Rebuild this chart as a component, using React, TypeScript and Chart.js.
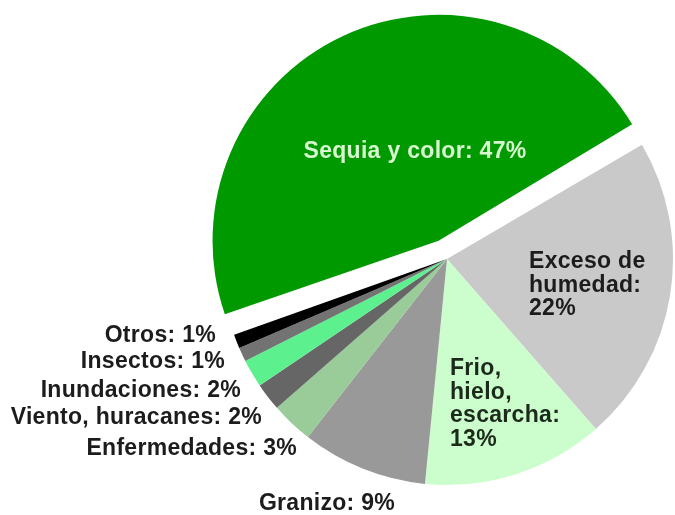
import React, { useEffect, useRef } from "react";
import { Chart, registerables } from "chart.js";

Chart.register(...registerables);

// ---- data ----
const categories = [
  "Exceso de\nhumedad",
  "Frio,\nhielo,\nescarcha",
  "Granizo",
  "Enfermedades",
  "Viento, huracanes",
  "Inundaciones",
  "Insectos",
  "Otros",
  "Sequia y color",
];
const values = [22, 13, 9, 3, 2, 2, 1, 1, 47];
const colors = [
  "#c9c9c9",
  "#ccfdcc",
  "#999999",
  "#99cc99",
  "#666666",
  "#5cf08f",
  "#737373",
  "#000000",
  "#009a00",
];
const explode = [0, 0, 0, 0, 0, 0, 0, 0, 80];

// ---- label layout (positions / styles only) ----
type LabelLayout = { x: number; y: number; align: CanvasTextAlign; color: string; inline: boolean };
const labelLayout: LabelLayout[] = [
  { x: 529, y: 268, align: "left", color: "#1c1c1c", inline: true },
  { x: 450, y: 375, align: "left", color: "#1c2a1c", inline: true },
  { x: 327, y: 510, align: "center", color: "#1c1c1c", inline: false },
  { x: 297, y: 455, align: "right", color: "#1c1c1c", inline: false },
  { x: 262, y: 424, align: "right", color: "#1c1c1c", inline: false },
  { x: 241, y: 397, align: "right", color: "#1c1c1c", inline: false },
  { x: 225, y: 368, align: "right", color: "#1c1c1c", inline: false },
  { x: 216, y: 342, align: "right", color: "#1c1c1c", inline: false },
  { x: 415, y: 158, align: "center", color: "#d8f8d0", inline: false },
];
const FONT = 'bold 23px "Liberation Sans", Arial, sans-serif';
const LETTER_SPACING = "0.3px";
const LINE_H = 23.5;

const radiusFix = {
  id: "radiusFix",
  afterDatasetsUpdate(chart: any) {
    const meta = chart.getDatasetMeta(0);
    meta.data.forEach((el: any) => {
      const off = (el.options && el.options.offset) || 0;
      if (off) {
        const fix = 1 - Math.sin(Math.min(Math.PI, el.circumference || 0));
        el.outerRadius = el.outerRadius - (off / 4) * fix;
      }
    });
  },
};

const labelsPlugin = {
  id: "sliceLabels",
  afterDatasetsDraw(chart: any) {
    const ctx = chart.ctx as CanvasRenderingContext2D;
    ctx.save();
    ctx.font = FONT;
    (ctx as any).letterSpacing = LETTER_SPACING;
    ctx.textBaseline = "alphabetic";
    categories.forEach((name, i) => {
      const L = labelLayout[i];
      const text = L.inline
        ? `${name}:\n${values[i]}%`
        : `${name.replace(/\n/g, " ")}: ${values[i]}%`;
      ctx.fillStyle = L.color;
      ctx.textAlign = L.align;
      text.split("\n").forEach((line, k) => {
        ctx.fillText(line, L.x, L.y + k * LINE_H);
      });
    });
    ctx.restore();
  },
};

export default function App() {
  const ref = useRef<HTMLCanvasElement | null>(null);
  useEffect(() => {
    if (!ref.current) return;
    const chart = new Chart(ref.current, {
      type: "pie",
      data: {
        labels: categories.map((c) => c.replace(/\n/g, " ")),
        datasets: [
          {
            data: values,
            backgroundColor: colors,
            borderWidth: 0,
            offset: explode,
            hoverOffset: 0,
          } as any,
        ],
      },
      options: {
        animation: false,
        responsive: false,
        events: [],
        rotation: 59.6,
        radius: 226,
        layout: { padding: { left: 219, top: 3, right: 0, bottom: 0 } },
        plugins: { legend: { display: false }, tooltip: { enabled: false } },
      } as any,
      plugins: [radiusFix, labelsPlugin],
    });
    return () => chart.destroy();
  }, []);
  return (
    <div style={{ position: "fixed", left: 0, top: 0, width: 675, height: 515, background: "#fff" }}>
      <canvas ref={ref} width={675} height={515} />
    </div>
  );
}
